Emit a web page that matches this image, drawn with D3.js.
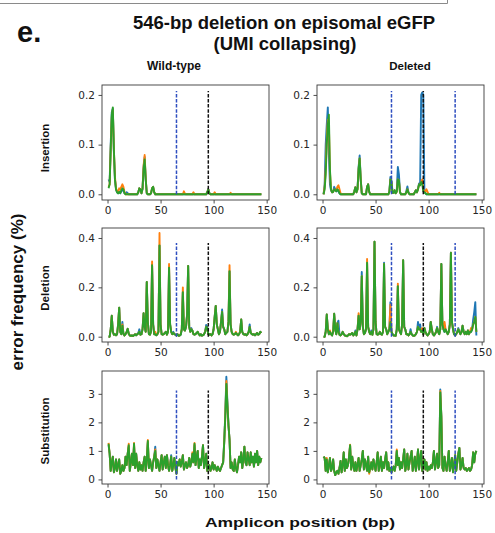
<!DOCTYPE html>
<html>
<head>
<meta charset="utf-8">
<script src="https://cdn.jsdelivr.net/npm/d3@7"></script>
<style>
  body { margin: 0; background: #fff; }
  svg { display: block; }
</style>
</head>
<body>
<svg id="chart" width="495" height="533"></svg>
<script>
// Amplicon positions (bp) along the x axis
const positions = d3.range(1, 146);

// ---- Insertion, wild-type ----
const insWT_blue = [0.03,0.025,0.1,0.165,0.172,0.085,0.03,0.01,0.004,0.002,
  0.005,0.002,0.006,0.008,0.008,0.002,0.002,0.004,0.002,0,
  0,0,0,0,0,0,0,0,0.004,0.012,
  0.01,0.002,0.012,0.055,0.075,0.03,0.002,0,0,0,
  0.002,0.012,0.015,0.004,0,0,0,0,0,0,
  0,0,0,0,0,0,0,0,0,0, 0,0,0,0,0,0,0,0,0,0, 0,0,0,0,0,0,0,0,0,0, 0,0,0,0,0,0,0,0,0,0,
  0,0,0,0.004,0.01,0.002,0,0,0,0,
  0,0,0,0,0,0,0,0,0,0, 0,0,0,0,0,0,0,0,0,0, 0,0,0,0,0,0,0,0,0,0, 0,0,0,0,0,0,0,0,0,0, 0,0,0,0,0];
const insWT_orange = [0.015,0.02,0.09,0.155,0.17,0.09,0.035,0.012,0.006,0.004,
  0.012,0.01,0.015,0.02,0.015,0.004,0,0,0,0,
  0,0,0,0,0,0,0,0,0.004,0.012,
  0.01,0.002,0.012,0.058,0.079,0.032,0.002,0,0,0,
  0.002,0.012,0.015,0.004,0,0,0,0,0,0,
  0,0,0,0,0,0,0,0,0,0, 0,0,0,0,0,0,0,0,0,0,
  0,0.006,0.001,0,0,0,0,0,0,0,
  0.004,0,0,0,0,0,0,0,0,0,
  0,0,0,0.004,0.01,0.002,0,0,0,0,
  0.004,0,0,0,0,0,0,0,0,0,
  0,0,0,0,0,0.003,0,0,0,0,
  0,0,0,0,0,0,0,0,0,0, 0,0,0,0,0,0,0,0,0,0, 0,0,0,0,0];
const insWT_green = [0.012,0.02,0.09,0.16,0.175,0.09,0.03,0.01,0.004,0.002,
  0.005,0.002,0.008,0.012,0.01,0.002,0,0,0,0,
  0,0,0,0,0,0,0,0,0.004,0.012,
  0.01,0.002,0.01,0.05,0.07,0.03,0.002,0,0,0,
  0.002,0.012,0.015,0.004,0,0,0,0,0,0,
  0,0,0,0,0,0,0,0,0,0, 0,0,0,0,0,0,0,0,0,0, 0,0,0,0,0,0,0,0,0,0, 0,0,0,0,0,0,0,0,0,0,
  0,0,0,0.004,0.01,0.002,0,0,0,0,
  0,0,0,0,0,0,0,0,0,0, 0,0,0,0,0,0,0,0,0,0, 0,0,0,0,0,0,0,0,0,0, 0,0,0,0,0,0,0,0,0,0, 0,0,0,0,0];

// ---- Insertion, deleted ----
const insDel_blue = [0,0.02,0.1,0.14,0.175,0.08,0.02,0.008,0.004,0.005,
  0.015,0.01,0.006,0.008,0.006,0.002,0,0,0,0,
  0,0,0,0,0,0,0,0,0,0.006,
  0.014,0.004,0.012,0.055,0.078,0.03,0.002,0,0,0,
  0,0.015,0.02,0.005,0,0,0,0,0,0,
  0,0,0,0,0,0,0,0,0,0,
  0,0,0.005,0.035,0.028,0.003,0.003,0.008,0.002,0.008,
  0.055,0.04,0.005,0,0,0,0,0,0.006,0.016,
  0.004,0,0,0,0,0,0.004,0.008,0.004,0.012,
  0.022,0.02,0.2,0.205,0.2,0.01,0.002,0,0,0,
  0,0,0,0,0,0,0,0,0,0, 0,0,0,0,0,0,0,0,0,0, 0,0,0,0,0,0,0,0,0,0, 0,0,0,0,0,0,0,0,0,0, 0,0,0,0,0];
const insDel_orange = [0,0.015,0.05,0.11,0.15,0.14,0.045,0.01,0.004,0.005,
  0.01,0.008,0.008,0.015,0.018,0.01,0.002,0,0,0,
  0,0,0,0,0,0,0,0,0,0.006,
  0.014,0.004,0.01,0.05,0.072,0.03,0.002,0,0,0,
  0,0.015,0.02,0.005,0,0,0,0,0,0,
  0,0,0,0,0,0,0,0,0,0,
  0,0,0.005,0.03,0.025,0.003,0.003,0.008,0.002,0.005,
  0.03,0.028,0.004,0,0,0,0,0,0.004,0.01,
  0.003,0,0,0,0,0,0.004,0.008,0.004,0.01,
  0.02,0.018,0.025,0.03,0.01,0.004,0.006,0.01,0.005,0,
  0,0,0,0,0,0,0,0,0,0.003,
  0,0,0,0,0,0,0,0,0,0, 0,0,0,0,0,0,0,0,0,0, 0,0,0,0,0,0,0,0,0,0, 0,0,0,0,0];
const insDel_green = [0,0.01,0.04,0.1,0.14,0.16,0.05,0.01,0.004,0.005,
  0.01,0.008,0.006,0.01,0.008,0.002,0,0,0,0,
  0,0,0,0,0,0,0,0,0,0.006,
  0.014,0.004,0.01,0.05,0.072,0.03,0.002,0,0,0,
  0,0.015,0.02,0.005,0,0,0,0,0,0,
  0,0,0,0,0,0,0,0,0,0,
  0,0,0.005,0.03,0.025,0.003,0.003,0.008,0.002,0.005,
  0.03,0.028,0.004,0,0,0,0,0,0.004,0.01,
  0.003,0,0,0,0,0,0.004,0.008,0.004,0.01,
  0.02,0.018,0.025,0.02,0.006,0.004,0.002,0,0,0,
  0,0,0,0,0,0,0,0,0,0, 0,0,0,0,0,0,0,0,0,0, 0,0,0,0,0,0,0,0,0,0, 0,0,0,0,0,0,0,0,0,0, 0,0,0,0,0];

// ---- Deletion, wild-type ----
const delWT_blue = [0,0,0.03,0.085,0.02,0.008,0.01,0.006,0.01,0.05,
  0.118,0.02,0.01,0.06,0.012,0.005,0.01,0.02,0.032,0.012,
  0.005,0.004,0.005,0.003,0.006,0.01,0.006,0.01,0.015,0.03,
  0.008,0.01,0.03,0.095,0.04,0.02,0.222,0.06,0.01,0.008,
  0.02,0.29,0.05,0.01,0.01,0.006,0.01,0.02,0.37,0.05,
  0.01,0.008,0.01,0.015,0.02,0.008,0.02,0.28,0.05,0.02,
  0.01,0.02,0.01,0.008,0.005,0.01,0.004,0.005,0.008,0.03,
  0.18,0.03,0.025,0.04,0.09,0.287,0.04,0.02,0.035,0.025,
  0.01,0.008,0.01,0.015,0.02,0.01,0.005,0.01,0.004,0.006,
  0.01,0.02,0.048,0.04,0.01,0.008,0.01,0.005,0.01,0.03,
  0.08,0.125,0.05,0.03,0.01,0.02,0.06,0.11,0.04,0.03,
  0.01,0.015,0.02,0.06,0.265,0.05,0.02,0.01,0.008,0.01,
  0.015,0.01,0.006,0.01,0.02,0.07,0.02,0.01,0.008,0.01,
  0.006,0.01,0.02,0.05,0.015,0.01,0.008,0.01,0.006,0.01,
  0.015,0.008,0.01,0.02,0.015];
const delWT_orange = [0,0,0.03,0.085,0.02,0.008,0.01,0.006,0.01,0.05,
  0.118,0.02,0.01,0.05,0.012,0.005,0.01,0.02,0.032,0.012,
  0.005,0.004,0.005,0.003,0.006,0.01,0.006,0.01,0.012,0.02,
  0.008,0.01,0.03,0.095,0.04,0.02,0.222,0.06,0.01,0.008,
  0.02,0.305,0.05,0.01,0.02,0.006,0.01,0.02,0.42,0.05,
  0.01,0.008,0.01,0.015,0.02,0.008,0.02,0.295,0.05,0.02,
  0.01,0.015,0.01,0.008,0.005,0.01,0.004,0.005,0.012,0.03,
  0.2,0.03,0.025,0.04,0.09,0.287,0.04,0.02,0.03,0.025,
  0.01,0.008,0.01,0.015,0.02,0.01,0.005,0.01,0.004,0.006,
  0.01,0.02,0.04,0.035,0.01,0.008,0.01,0.005,0.01,0.03,
  0.08,0.125,0.05,0.03,0.01,0.02,0.06,0.1,0.04,0.03,
  0.01,0.015,0.02,0.06,0.29,0.05,0.02,0.01,0.008,0.01,
  0.02,0.01,0.006,0.01,0.02,0.07,0.02,0.01,0.008,0.01,
  0.006,0.01,0.02,0.04,0.015,0.01,0.008,0.01,0.006,0.01,
  0.015,0.008,0.01,0.02,0.015];
const delWT_green = [0,0,0.03,0.085,0.02,0.008,0.01,0.006,0.01,0.05,
  0.118,0.02,0.01,0.045,0.012,0.005,0.01,0.02,0.032,0.012,
  0.005,0.004,0.005,0.003,0.006,0.01,0.006,0.01,0.012,0.02,
  0.008,0.01,0.03,0.095,0.04,0.02,0.222,0.06,0.01,0.008,
  0.02,0.29,0.05,0.01,0.01,0.006,0.01,0.02,0.37,0.05,
  0.01,0.008,0.01,0.015,0.02,0.008,0.02,0.28,0.05,0.02,
  0.01,0.015,0.01,0.008,0.005,0.01,0.004,0.005,0.008,0.03,
  0.18,0.03,0.025,0.04,0.09,0.287,0.04,0.02,0.03,0.025,
  0.01,0.008,0.01,0.015,0.02,0.01,0.005,0.01,0.004,0.006,
  0.01,0.02,0.04,0.035,0.01,0.008,0.01,0.005,0.01,0.03,
  0.08,0.125,0.05,0.03,0.01,0.02,0.06,0.1,0.04,0.03,
  0.01,0.015,0.02,0.06,0.265,0.05,0.02,0.01,0.008,0.01,
  0.015,0.01,0.006,0.01,0.02,0.07,0.02,0.01,0.008,0.01,
  0.006,0.01,0.02,0.04,0.015,0.01,0.008,0.01,0.006,0.01,
  0.015,0.008,0.01,0.02,0.015];

// ---- Deletion, deleted ----
const delDel_blue = [0,0,0.02,0.09,0.03,0.01,0.02,0.01,0.005,0.02,
  0.093,0.03,0.01,0.055,0.065,0.008,0.005,0.01,0.02,0.01,
  0.005,0.004,0.002,0.005,0.01,0.008,0.01,0.015,0.005,0.01,
  0.025,0.005,0.03,0.085,0.03,0.06,0.262,0.04,0.01,0.015,
  0.03,0.3,0.04,0.02,0.01,0.025,0.008,0.03,0.385,0.06,
  0.01,0.008,0.01,0.02,0.01,0.008,0.02,0.3,0.04,0.03,
  0.01,0.02,0.03,0.14,0.02,0.01,0.005,0.005,0.004,0.03,
  0.205,0.03,0.02,0.01,0.05,0.31,0.04,0.03,0.01,0.01,
  0.005,0.01,0.03,0.01,0.005,0.004,0.005,0.01,0.02,0.06,
  0.03,0.05,0.02,0.025,0.01,0.035,0.02,0.01,0.005,0.01,
  0.02,0.06,0.03,0.01,0.005,0.01,0.02,0.04,0.02,0.01,
  0.03,0.295,0.05,0.03,0.02,0.03,0.02,0.01,0.02,0.05,
  0.34,0.06,0.03,0.01,0.005,0.01,0.02,0.035,0.02,0.01,
  0.02,0.045,0.02,0.01,0.02,0.01,0.025,0.01,0.02,0.02,
  0.03,0.07,0.1,0.14,0.005];
const delDel_orange = [0,0,0.02,0.09,0.03,0.01,0.025,0.01,0.005,0.02,
  0.093,0.03,0.01,0.055,0.02,0.008,0.005,0.01,0.02,0.01,
  0.005,0.004,0.002,0.005,0.01,0.008,0.01,0.015,0.005,0.01,
  0.02,0.005,0.03,0.095,0.03,0.06,0.245,0.04,0.01,0.015,
  0.03,0.315,0.04,0.02,0.01,0.02,0.008,0.03,0.385,0.06,
  0.01,0.008,0.01,0.02,0.01,0.008,0.02,0.295,0.04,0.03,
  0.01,0.02,0.03,0.13,0.02,0.01,0.005,0.005,0.004,0.03,
  0.215,0.03,0.02,0.01,0.05,0.31,0.04,0.03,0.01,0.01,
  0.005,0.01,0.02,0.01,0.005,0.004,0.005,0.01,0.02,0.04,
  0.03,0.03,0.02,0.035,0.01,0.035,0.02,0.01,0.005,0.01,
  0.02,0.06,0.03,0.01,0.005,0.01,0.02,0.035,0.02,0.01,
  0.03,0.295,0.05,0.03,0.06,0.03,0.02,0.01,0.02,0.05,
  0.34,0.06,0.03,0.01,0.005,0.01,0.02,0.03,0.02,0.01,
  0.02,0.045,0.02,0.01,0.02,0.01,0.025,0.01,0.02,0.035,
  0.03,0.05,0.06,0.08,0.02];
const delDel_green = [0,0,0.02,0.09,0.03,0.01,0.02,0.01,0.005,0.02,
  0.093,0.03,0.01,0.055,0.02,0.008,0.005,0.01,0.02,0.01,
  0.005,0.004,0.002,0.005,0.01,0.008,0.01,0.015,0.005,0.01,
  0.02,0.005,0.03,0.085,0.03,0.06,0.245,0.04,0.01,0.015,
  0.03,0.3,0.04,0.02,0.01,0.02,0.008,0.03,0.385,0.06,
  0.01,0.008,0.01,0.02,0.01,0.008,0.02,0.295,0.04,0.03,
  0.01,0.02,0.03,0.06,0.02,0.01,0.005,0.005,0.004,0.03,
  0.205,0.03,0.02,0.01,0.05,0.31,0.04,0.03,0.01,0.01,
  0.005,0.01,0.02,0.01,0.005,0.004,0.005,0.01,0.02,0.04,
  0.03,0.03,0.02,0.025,0.01,0.035,0.02,0.01,0.005,0.01,
  0.02,0.06,0.03,0.01,0.005,0.01,0.02,0.035,0.02,0.01,
  0.03,0.295,0.05,0.03,0.02,0.03,0.02,0.01,0.02,0.05,
  0.34,0.06,0.03,0.01,0.005,0.01,0.02,0.03,0.02,0.01,
  0.02,0.045,0.02,0.01,0.02,0.01,0.025,0.01,0.02,0.02,
  0.03,0.05,0.06,0.08,0.02];

// ---- Substitution, wild-type ----
const subWT_blue = [1.2,0.9,0.3,0.6,0.8,0.25,0.4,0.7,0.3,0.5,
  0.7,0.2,0.3,0.5,0.3,0.4,0.8,0.5,0.9,1.15,
  0.3,0.6,0.9,0.5,1.2,0.4,0.9,0.5,0.3,0.6,
  0.35,0.5,0.3,0.6,0.8,0.3,0.7,1.3,0.4,0.7,
  0.5,0.3,0.6,0.8,1.15,0.4,0.7,0.5,0.3,0.6,
  0.85,0.35,0.6,0.8,0.4,0.85,0.5,0.3,0.5,0.85,
  0.3,0.5,0.75,0.4,0.2,0.6,0.5,0.7,0.45,0.6,
  0.85,0.35,0.5,0.6,0.4,0.5,0.75,0.45,0.6,0.9,
  0.6,1.2,0.5,0.8,1.0,0.4,0.7,0.5,0.8,1.2,
  0.4,0.6,0.9,0.3,0.45,0.5,0.3,0.4,0.6,0.35,
  0.5,0.4,0.3,0.45,0.35,0.3,0.4,0.5,0.6,1.35,
  2.3,3.6,2.7,1.9,1.4,0.4,0.6,0.35,0.3,0.7,
  0.4,0.25,0.5,0.8,0.6,0.95,0.4,0.7,1.15,0.6,
  0.5,0.95,0.7,0.5,0.95,0.6,0.8,0.45,0.9,0.6,
  1.0,0.5,0.8,0.6,0.75];
const subWT_orange = [1.28,0.9,0.3,0.6,0.8,0.25,0.4,0.7,0.3,0.5,
  0.7,0.2,0.3,0.5,0.3,0.4,0.8,0.5,0.9,1.25,
  0.3,0.6,0.9,0.5,1.28,0.4,0.9,0.5,0.3,0.6,
  0.35,0.5,0.3,0.6,0.8,0.3,0.7,1.38,0.4,0.7,
  0.5,0.3,0.6,0.8,1.05,0.4,0.7,0.5,0.3,0.6,
  0.85,0.35,0.6,0.8,0.4,0.85,0.5,0.3,0.5,0.8,
  0.3,0.5,0.75,0.4,0.2,0.6,0.5,0.7,0.45,0.6,
  0.85,0.35,0.5,0.6,0.4,0.5,0.75,0.45,0.6,0.95,
  0.6,1.28,0.5,0.8,1.0,0.4,0.7,0.5,0.8,1.2,
  0.4,0.6,0.9,0.3,0.45,0.5,0.3,0.4,0.6,0.35,
  0.5,0.4,0.3,0.45,0.35,0.3,0.4,0.5,0.6,1.3,
  2.2,3.45,2.6,1.9,1.4,0.4,0.6,0.35,0.3,0.7,
  0.4,0.25,0.5,0.8,0.6,0.95,0.4,0.7,1.15,0.6,
  0.5,0.95,0.7,0.5,0.95,0.6,0.8,0.45,0.9,0.6,
  1.0,0.5,0.8,0.6,0.75];
const subWT_green = [1.25,0.9,0.3,0.6,0.8,0.25,0.4,0.7,0.3,0.5,
  0.7,0.2,0.3,0.5,0.3,0.4,0.8,0.5,0.9,1.2,
  0.3,0.6,0.9,0.5,1.25,0.4,0.9,0.5,0.3,0.6,
  0.35,0.5,0.3,0.6,0.8,0.3,0.7,1.35,0.4,0.7,
  0.5,0.3,0.6,0.8,1.0,0.4,0.7,0.5,0.3,0.6,
  0.85,0.35,0.6,0.8,0.4,0.85,0.5,0.3,0.5,0.8,
  0.3,0.5,0.75,0.4,0.2,0.6,0.5,0.7,0.45,0.6,
  0.85,0.35,0.5,0.6,0.4,0.5,0.75,0.45,0.6,0.9,
  0.6,1.25,0.5,0.8,1.0,0.4,0.7,0.5,0.8,1.2,
  0.4,0.6,0.9,0.3,0.45,0.5,0.3,0.4,0.6,0.35,
  0.5,0.4,0.3,0.45,0.35,0.3,0.4,0.5,0.6,1.3,
  2.2,3.35,2.6,1.9,1.4,0.4,0.6,0.35,0.3,0.7,
  0.4,0.25,0.5,0.8,0.6,0.95,0.4,0.7,1.15,0.6,
  0.5,0.95,0.7,0.5,0.95,0.6,0.8,0.45,0.9,0.6,
  1.0,0.5,0.8,0.6,0.75];

// ---- Substitution, deleted ----
const subDel_blue = [0.8,0.75,0.3,0.7,0.25,0.5,0.75,0.3,0.4,0.7,
  0.3,0.15,0.25,0.3,0.2,0.4,0.65,0.25,0.5,0.95,
  0.3,0.7,0.4,0.5,0.8,1.18,0.35,0.8,0.5,0.3,
  0.6,0.3,0.5,0.75,0.3,0.5,0.7,1.0,0.35,0.7,
  0.5,0.3,0.8,0.25,0.4,0.6,0.35,0.7,0.5,0.3,
  0.6,0.95,0.3,0.5,0.8,0.3,0.6,0.4,0.7,0.95,
  0.35,0.6,0.3,0.4,0.25,0.35,0.45,0.3,0.5,1.0,
  0.5,0.75,0.35,0.6,0.4,0.7,1.05,0.3,0.5,0.9,
  0.35,0.6,0.8,1.0,0.3,0.5,0.8,0.3,0.6,1.05,
  0.35,0.7,1.0,0.3,0.5,0.7,0.35,0.6,0.3,0.45,
  0.35,0.5,0.4,0.6,1.0,0.35,0.6,0.9,0.4,0.5,
  3.15,2.2,0.4,0.3,0.8,0.5,0.3,0.6,1.0,0.3,
  0.5,0.75,0.25,0.5,0.85,0.3,0.6,0.9,1.1,0.35,
  0.5,0.75,0.4,0.35,0.4,0.3,0.35,0.4,0.3,0.35,
  0.5,0.95,0.6,0.9,1.0];
const subDel_orange = [0.8,0.75,0.3,0.75,0.25,0.5,0.75,0.3,0.4,0.7,
  0.3,0.15,0.25,0.3,0.2,0.4,0.65,0.25,0.5,0.95,
  0.3,0.7,0.4,0.5,0.8,1.22,0.35,0.8,0.5,0.3,
  0.6,0.3,0.5,0.75,0.3,0.5,0.7,1.0,0.35,0.7,
  0.5,0.3,0.8,0.2,0.4,0.6,0.35,0.7,0.5,0.3,
  0.6,0.95,0.3,0.5,0.8,0.3,0.6,0.4,0.7,0.95,
  0.35,0.6,0.3,0.4,0.25,0.35,0.45,0.3,0.5,1.05,
  0.5,0.75,0.35,0.6,0.4,0.7,1.05,0.3,0.5,0.9,
  0.35,0.6,0.8,1.0,0.3,0.5,0.8,0.3,0.6,1.05,
  0.35,0.7,1.0,0.3,0.5,0.7,0.35,0.6,0.3,0.45,
  0.35,0.5,0.4,0.6,1.0,0.35,0.6,0.9,0.4,0.5,
  3.1,2.2,0.4,0.3,0.8,0.5,0.3,0.6,1.0,0.3,
  0.5,0.75,0.25,0.5,0.85,0.3,0.6,0.9,1.1,0.35,
  0.5,0.75,0.4,0.35,0.4,0.3,0.35,0.4,0.3,0.35,
  0.5,0.95,0.6,0.9,1.0];
const subDel_green = [0.8,0.75,0.3,0.7,0.25,0.5,0.75,0.3,0.4,0.7,
  0.3,0.15,0.25,0.3,0.2,0.4,0.65,0.25,0.5,0.95,
  0.3,0.7,0.4,0.5,0.8,1.2,0.35,0.8,0.5,0.3,
  0.6,0.3,0.5,0.75,0.3,0.5,0.7,1.0,0.35,0.7,
  0.5,0.3,0.8,0.25,0.4,0.6,0.35,0.7,0.5,0.3,
  0.6,0.95,0.3,0.5,0.8,0.3,0.6,0.4,0.7,0.95,
  0.35,0.6,0.3,0.4,0.25,0.35,0.45,0.3,0.5,1.0,
  0.5,0.75,0.35,0.6,0.4,0.7,1.05,0.3,0.5,0.9,
  0.35,0.6,0.8,1.0,0.3,0.5,0.8,0.3,0.6,1.05,
  0.35,0.7,1.0,0.3,0.5,0.7,0.35,0.6,0.3,0.45,
  0.35,0.5,0.4,0.6,1.0,0.35,0.6,0.9,0.4,0.5,
  3.05,2.2,0.4,0.3,0.8,0.5,0.3,0.6,1.0,0.3,
  0.5,0.75,0.25,0.5,0.85,0.3,0.6,0.9,1.1,0.35,
  0.5,0.75,0.4,0.35,0.4,0.3,0.35,0.4,0.3,0.35,
  0.5,0.95,0.6,0.9,1.0];

// Axis ticks
const xTickValues = [0, 50, 100, 150];
const yTickValues = [[0, 0.1, 0.2], [0, 0.2, 0.4], [0, 1, 2, 3]];
const yTickFormats = [".1f", ".1f", "d"];

// Reference positions (bp) marked with dashed lines, and their heights per row
const markerWT = [65, 95];
const markerDel = [65, 95, 125];
const markerTop = [0.208, 0.38, 3.12];

// Labels
const rowNames = ["Insertion", "Deletion", "Substitution"];
const colNames = ["Wild-type", "Deleted"];

// ---------------- layout ----------------
const svg = d3.select("#chart");
const colX = [[102, 269], [317, 484]];
const rowY = [[85, 200], [228, 342], [371, 484]];
const xDomain = [-5.2, 152.2];
const yDomains = [[-0.0115, 0.22], [-0.0215, 0.4405], [-0.16, 3.8]];
const seriesColors = ["#1f77b4", "#ff7f0e", "#2ca02c"];
const tickFont = "'DejaVu Sans', sans-serif";
const labelFont = "'Liberation Sans', Arial, Helvetica, sans-serif";

const panels = [
  [[insWT_blue, insWT_orange, insWT_green], [insDel_blue, insDel_orange, insDel_green]],
  [[delWT_blue, delWT_orange, delWT_green], [delDel_blue, delDel_orange, delDel_green]],
  [[subWT_blue, subWT_orange, subWT_green], [subDel_blue, subDel_orange, subDel_green]]
];
const markers = [markerWT, markerDel];
const markerColor = v => (v === 95 ? "#111111" : "#2f4fc0");

// top rule
svg.append("path").attr("d", "M0,3.5H447.5V0").attr("fill", "none")
  .attr("stroke", "#8a8a8a").attr("stroke-width", 1);

panels.forEach((rowPanels, r) => {
  rowPanels.forEach((series, c) => {
    const x = d3.scaleLinear().domain(xDomain).range(colX[c]);
    const y = d3.scaleLinear().domain(yDomains[r]).range([rowY[r][1], rowY[r][0]]);
    const g = svg.append("g");
    const clipId = `clip-${r}-${c}`;
    g.append("clipPath").attr("id", clipId).append("rect")
      .attr("x", colX[c][0]).attr("y", rowY[r][0])
      .attr("width", colX[c][1] - colX[c][0]).attr("height", rowY[r][1] - rowY[r][0]);

    const plot = g.append("g").attr("clip-path", `url(#${clipId})`);
    const line = d3.line().x((d, i) => x(positions[i])).y(d => y(d));
    series.forEach((vals, s) => {
      plot.append("path").datum(vals)
        .attr("d", line)
        .attr("fill", "none")
        .attr("stroke", seriesColors[s])
        .attr("stroke-width", 1.9)
        .attr("stroke-linejoin", "round");
    });

    markers[c].forEach(m => {
      plot.append("line")
        .attr("x1", x(m)).attr("x2", x(m))
        .attr("y1", y(0)).attr("y2", y(markerTop[r]))
        .attr("stroke", markerColor(m))
        .attr("stroke-width", 1.5)
        .attr("stroke-dasharray", "3.5,1.6");
    });

    // frame
    g.append("rect")
      .attr("x", colX[c][0]).attr("y", rowY[r][0])
      .attr("width", colX[c][1] - colX[c][0]).attr("height", rowY[r][1] - rowY[r][0])
      .attr("fill", "none").attr("stroke", "#3a3a3a").attr("stroke-width", 0.9);

    const xa = g.append("g").attr("transform", `translate(0,${rowY[r][1]})`)
      .call(d3.axisBottom(x).tickValues(xTickValues).tickSize(3.5).tickPadding(3.5));
    const ya = g.append("g").attr("transform", `translate(${colX[c][0]},0)`)
      .call(d3.axisLeft(y).tickValues(yTickValues[r]).tickFormat(d3.format(yTickFormats[r]))
        .tickSize(3.5).tickPadding(3.5));
    [xa, ya].forEach(a => {
      a.select(".domain").remove();
      a.selectAll(".tick line").attr("stroke", "#3a3a3a").attr("stroke-width", 0.9);
      a.selectAll(".tick text").attr("fill", "#262626")
        .style("font-family", tickFont).style("font-size", "10.5px");
    });
  });
});

// titles and labels
const bold = sel => sel.attr("font-family", labelFont).attr("font-weight", "bold").attr("fill", "#111");

bold(svg.append("text")).attr("x", 17).attr("y", 42).attr("font-size", 29).text("e.");
bold(svg.append("text")).attr("x", 284).attr("y", 29).attr("text-anchor", "middle")
  .attr("font-size", 18.5).text("546-bp deletion on episomal eGFP");
bold(svg.append("text")).attr("x", 285).attr("y", 50).attr("text-anchor", "middle")
  .attr("font-size", 18.5).text("(UMI collapsing)");

const colCenter = [174, 410];
const colSize = [12, 11.5];
colNames.forEach((t, c) => {
  bold(svg.append("text")).attr("x", colCenter[c]).attr("y", 70).attr("text-anchor", "middle")
    .attr("font-size", colSize[c]).text(t);
});

const rowCenter = [148, 288, 431];
rowNames.forEach((t, r) => {
  bold(svg.append("text"))
    .attr("transform", `translate(49,${rowCenter[r]}) rotate(-90)`)
    .attr("text-anchor", "middle").attr("font-size", 11.5).text(t);
});

bold(svg.append("text"))
  .attr("transform", "translate(23,292) rotate(-90)")
  .attr("text-anchor", "middle").attr("font-size", 17).text("error frequency (%)");

bold(svg.append("text")).attr("x", 300).attr("y", 527).attr("text-anchor", "middle")
  .attr("font-size", 12.5).attr("textLength", 190).attr("lengthAdjust", "spacingAndGlyphs")
  .text("Amplicon position (bp)");
</script>
</body>
</html>
